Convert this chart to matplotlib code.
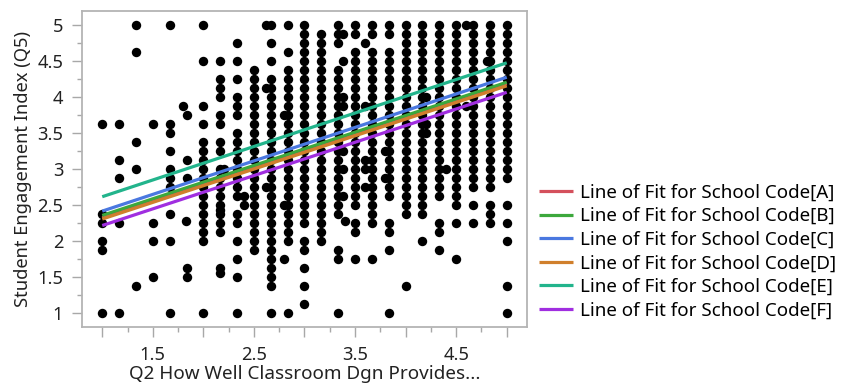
#!/usr/bin/env python3
"""
Scatter of student engagement index vs. Q2 rating, with a line of fit
for each school code.
"""

import numpy as np
import matplotlib.pyplot as plt
from matplotlib.ticker import FixedLocator, FixedFormatter

plt.rcParams['font.family'] = ['Noto Sans', 'DejaVu Sans']

# Q2 is the mean of 6 items, Q5 the mean of 8 items, so the raw
# responses are kept as item sums (sixths and eighths)
q2_sums = [6, 7, 8, 9, 10, 11, 12, 13, 14, 15, 16, 17, 18,
           19, 20, 21, 22, 23, 24, 25, 26, 27, 28, 29, 30]
q5_sums = [
    [29, 19, 18, 16, 15, 8],
    [29, 25, 23, 18, 8],
    [40, 37, 27, 24, 11],
    [29, 18, 16, 12],
    [40, 29, 28, 26, 24, 23, 22, 19, 16, 8],
    [30, 25, 23, 13, 12],
    [40, 36, 31, 29, 27, 26, 25, 24, 23, 22, 21, 20, 19, 18, 17, 16, 8],
    [36, 34, 33, 32, 30, 29, 27, 26, 24, 23, 22, 21, 20, 19, 18, 17, 13],
    [38, 36, 34, 32, 31, 30, 28, 27, 26, 25, 24, 23, 22, 21, 19, 18, 16,
     14, 12, 8],
    [35, 34, 33, 32, 31, 30, 29, 28, 27, 26, 25, 24, 23, 22, 21, 20, 19,
     18, 17, 16, 15],
    [40, 38, 36, 34, 33, 32, 31, 30, 29, 28, 27, 26, 25, 24, 23, 22, 21,
     20, 19, 18, 17, 16, 15, 14, 13, 12, 11, 8],
    [40, 37, 35, 34, 33, 32, 31, 30, 29, 28, 27, 26, 25, 24, 23, 22, 21,
     20, 19, 18, 17, 16, 8],
    [40, 39, 38, 37, 36, 35, 34, 33, 32, 31, 30, 29, 28, 27, 26, 25, 24,
     23, 22, 21, 20, 19, 18, 16, 15, 13, 11, 9],
    [39, 38, 37, 36, 35, 34, 33, 32, 31, 30, 29, 28, 27, 26, 25, 24, 23,
     22, 21, 20, 19, 18, 17, 16],
    [40, 39, 38, 35, 34, 33, 32, 31, 30, 29, 28, 27, 26, 25, 24, 23, 22,
     21, 20, 19, 15, 14, 8],
    [40, 39, 37, 36, 35, 34, 33, 32, 31, 30, 29, 28, 27, 26, 25, 24, 23,
     22, 21, 20, 18, 17, 14],
    [40, 39, 37, 36, 35, 34, 33, 32, 31, 30, 29, 28, 27, 26, 25, 24, 23,
     22, 21, 20, 19, 18, 14],
    [40, 39, 37, 36, 35, 34, 33, 32, 31, 30, 29, 28, 27, 26, 25, 24, 23,
     22, 21, 18, 17, 15, 8],
    [40, 39, 38, 37, 36, 35, 34, 33, 32, 31, 30, 29, 28, 27, 26, 25, 24,
     23, 22, 21, 20, 19, 11],
    [40, 39, 38, 37, 36, 35, 34, 33, 32, 31, 30, 29, 28, 27, 26, 25, 24,
     23, 22, 21, 20, 19, 16],
    [40, 39, 38, 37, 36, 35, 34, 33, 32, 31, 30, 29, 28, 27, 26, 25, 24,
     23, 22, 21, 18, 17, 15],
    [40, 39, 38, 37, 36, 35, 34, 33, 32, 31, 30, 29, 28, 27, 26, 25, 24,
     23, 22, 21, 20, 18, 14],
    [40, 39, 38, 37, 36, 35, 34, 33, 32, 31, 30, 29, 28, 27, 26, 25, 24,
     23, 22, 20, 18],
    [40, 39, 38, 37, 36, 35, 34, 33, 32, 31, 30, 29, 28, 27, 26, 25, 24,
     23, 22, 20, 19, 18],
    [40, 39, 38, 37, 36, 35, 34, 33, 32, 31, 30, 29, 28, 27, 26, 25, 24,
     23, 20, 18, 16, 11, 8],
]

# responses with missing items (means off the regular grid)
extra_x = [1.8, 1.833, 2.167, 2.167, 2.2, 2.4, 2.4, 2.62, 2.62, 2.62,
           2.8, 2.8, 2.8, 3.38, 3.38, 3.38, 3.38, 3.38, 3.38, 3.38, 3.4,
           3.6, 3.6, 3.6, 3.6, 3.6, 3.8, 3.8, 4.2, 4.2, 4.2, 4.4, 4.6,
           4.6, 4.8]
extra_y = [3.875, 2.286, 2.4375, 1.5625, 3.0, 2.625, 2.5, 5.0, 4.125,
           2.75, 3.75, 2.5, 1.75, 4.875, 4.5, 4.0, 3.875, 3.25, 3.0,
           2.625, 2.286, 4.75, 3.875, 3.125, 3.0, 2.75, 3.25, 2.875, 4.0,
           3.625, 3.5, 3.0, 5.0, 3.875, 4.5]

# lines of fit, evaluated at the ends of the Q2 range
schools = ['A', 'B', 'C', 'D', 'E', 'F']
fit_x = [1.0, 5.0]
fit_start = [2.33, 2.36, 2.42, 2.31, 2.62, 2.22]
fit_end = [4.19, 4.21, 4.28, 4.16, 4.48, 4.07]
fit_colors = ['#d4505c', '#3ca83c', '#4a78e0', '#d07f2c', '#22b48c',
              '#a02ee0']

# flatten the grid responses into x/y arrays
xx = []
yy = []
for q2, col in zip(q2_sums, q5_sums):
    for q5 in col:
        xx.append(q2 / 6.0)
        yy.append(q5 / 8.0)
xx = np.array(xx + extra_x)
yy = np.array(yy + extra_y)

fig = plt.figure(figsize=(8.49, 3.84), dpi=100)
ax = fig.add_axes([0.0966, 0.1484, 0.5241, 0.823])

ax.scatter(xx, yy, s=46, c='black', linewidths=0, zorder=2)

for ii in range(len(schools)):
    ax.plot(fit_x, [fit_start[ii], fit_end[ii]], color=fit_colors[ii],
            linewidth=2.3, solid_capstyle='butt', zorder=3,
            label='Line of Fit for School Code[%s]' % schools[ii])

ax.set_xlim(0.8, 5.2)
ax.set_ylim(0.81, 5.2)

# x axis: marks every 0.25, labels only on the odd halves
xmaj = [1.0, 1.5, 2.0, 2.5, 3.0, 3.5, 4.0, 4.5, 5.0]
xlab = ['', '1.5', '', '2.5', '', '3.5', '', '4.5', '']
ax.xaxis.set_major_locator(FixedLocator(xmaj))
ax.xaxis.set_major_formatter(FixedFormatter(xlab))
ax.xaxis.set_minor_locator(FixedLocator([1.25, 1.75, 2.25, 2.75, 3.25,
                                         3.75, 4.25, 4.75]))
ymaj = [1.0, 1.5, 2.0, 2.5, 3.0, 3.5, 4.0, 4.5, 5.0]
ylab = ['1', '1.5', '2', '2.5', '3', '3.5', '4', '4.5', '5']
ax.yaxis.set_major_locator(FixedLocator(ymaj))
ax.yaxis.set_major_formatter(FixedFormatter(ylab))
ax.yaxis.set_minor_locator(FixedLocator([1.25, 1.75, 2.25, 2.75, 3.25,
                                         3.75, 4.25, 4.75]))

ax.tick_params(axis='both', which='major', length=7, width=1.0,
               color='#a8a8a8', labelsize=13.2, labelcolor='#222222',
               pad=6.5)
ax.tick_params(axis='both', which='minor', length=3.5, width=1.0,
               color='#a8a8a8')
for side in ax.spines:
    ax.spines[side].set_color('#b4b4b4')
    ax.spines[side].set_linewidth(1.3)

ax.set_xlabel('Q2 How Well Classroom Dgn Provides...', fontsize=13.6,
              color='#222222', labelpad=1)
ax.set_ylabel('Student Engagement Index (Q5)', fontsize=13.2,
              color='#222222', labelpad=4)

fig.legend(loc='upper left', bbox_to_anchor=(0.635, 0.522), frameon=False,
           fontsize=13.5, handlelength=1.8, handletextpad=0.37,
           labelspacing=0.30, borderaxespad=0, borderpad=0)

fig.savefig('out.png', dpi=100)
